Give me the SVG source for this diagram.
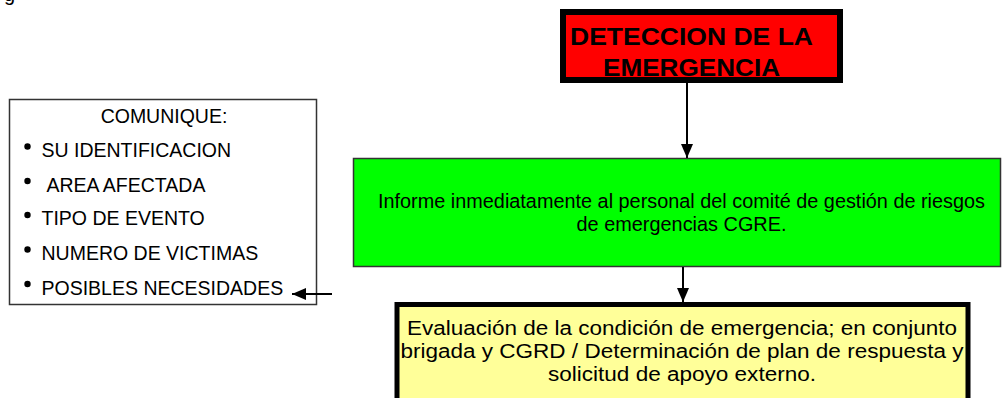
<svg xmlns="http://www.w3.org/2000/svg" width="1003" height="398" viewBox="0 0 1003 398">
  <style>
    text { font-family: "Liberation Sans", Arial, sans-serif; fill: #000; }
    .red { font-size: 23px; font-weight: bold; text-anchor: middle; }
    .grn { font-size: 20.5px; text-anchor: middle; }
    .yel { font-size: 20px; text-anchor: middle; }
    .lst { font-size: 19.5px; }
    .conn { stroke: #000; stroke-width: 2; fill: none; }
  </style>
  <defs>
    <marker id="ah" viewBox="0 0 14 12" refX="14" refY="6" markerWidth="14" markerHeight="12" markerUnits="userSpaceOnUse" orient="auto">
      <path d="M0,0 L14,6 L0,12 z" fill="#000"/>
    </marker>
  </defs>
  <rect width="1003" height="398" fill="#fff"/>
  <text x="4" y="1" style="font-size:20px">g</text>

  <g id="node-deteccion">
    <rect x="563" y="12" width="277" height="68" fill="#FF0000" stroke="#000" stroke-width="6"/>
    <text class="red" x="691.5" y="45" textLength="243" lengthAdjust="spacingAndGlyphs">DETECCION DE LA</text>
    <text class="red" x="691.5" y="76" textLength="177" lengthAdjust="spacingAndGlyphs">EMERGENCIA</text>
  </g>

  <g id="node-informe">
    <rect x="353.5" y="158.5" width="647" height="108" fill="#00FF00" stroke="#333" stroke-width="1.5"/>
    <text class="grn" x="681.5" y="208" textLength="607" lengthAdjust="spacingAndGlyphs">Informe inmediatamente al personal del comité de gestión de riesgos</text>
    <text class="grn" x="681.5" y="231" textLength="210" lengthAdjust="spacingAndGlyphs">de emergencias CGRE.</text>
  </g>

  <g id="node-evaluacion">
    <rect x="397" y="304.5" width="571" height="110" fill="#FFFF99" stroke="#000" stroke-width="5"/>
    <text class="yel" x="682" y="335" textLength="550" lengthAdjust="spacingAndGlyphs">Evaluación de la condición de emergencia; en conjunto</text>
    <text class="yel" x="682" y="358" textLength="563" lengthAdjust="spacingAndGlyphs">brigada y CGRD / Determinación de plan de respuesta y</text>
    <text class="yel" x="682" y="381" textLength="268" lengthAdjust="spacingAndGlyphs">solicitud de apoyo externo.</text>
  </g>

  <g id="node-comunique">
    <rect x="9.5" y="99.5" width="307" height="205" fill="#fff" stroke="#333" stroke-width="1.5"/>
    <text class="lst" x="164" y="123" text-anchor="middle">COMUNIQUE:</text>
    <circle cx="27.5" cy="146.5" r="3.2" fill="#000"/>
    <text class="lst" x="41.5" y="157">SU IDENTIFICACION</text>
    <circle cx="27.5" cy="181" r="3.2" fill="#000"/>
    <text class="lst" x="46.5" y="192">AREA AFECTADA</text>
    <circle cx="27.5" cy="215" r="3.2" fill="#000"/>
    <text class="lst" x="41.5" y="225">TIPO DE EVENTO</text>
    <circle cx="27.5" cy="249.5" r="3.2" fill="#000"/>
    <text class="lst" x="41.5" y="260">NUMERO DE VICTIMAS</text>
    <circle cx="27.5" cy="284" r="3.2" fill="#000"/>
    <text class="lst" x="41.5" y="295">POSIBLES NECESIDADES</text>
  </g>

  <g id="connectors">
    <line class="conn" x1="687" y1="83" x2="687" y2="158" marker-end="url(#ah)"/>
    <line class="conn" x1="683" y1="267" x2="683" y2="302" marker-end="url(#ah)"/>
    <line class="conn" x1="332" y1="294" x2="292" y2="294" marker-end="url(#ah)"/>
  </g>
</svg>
